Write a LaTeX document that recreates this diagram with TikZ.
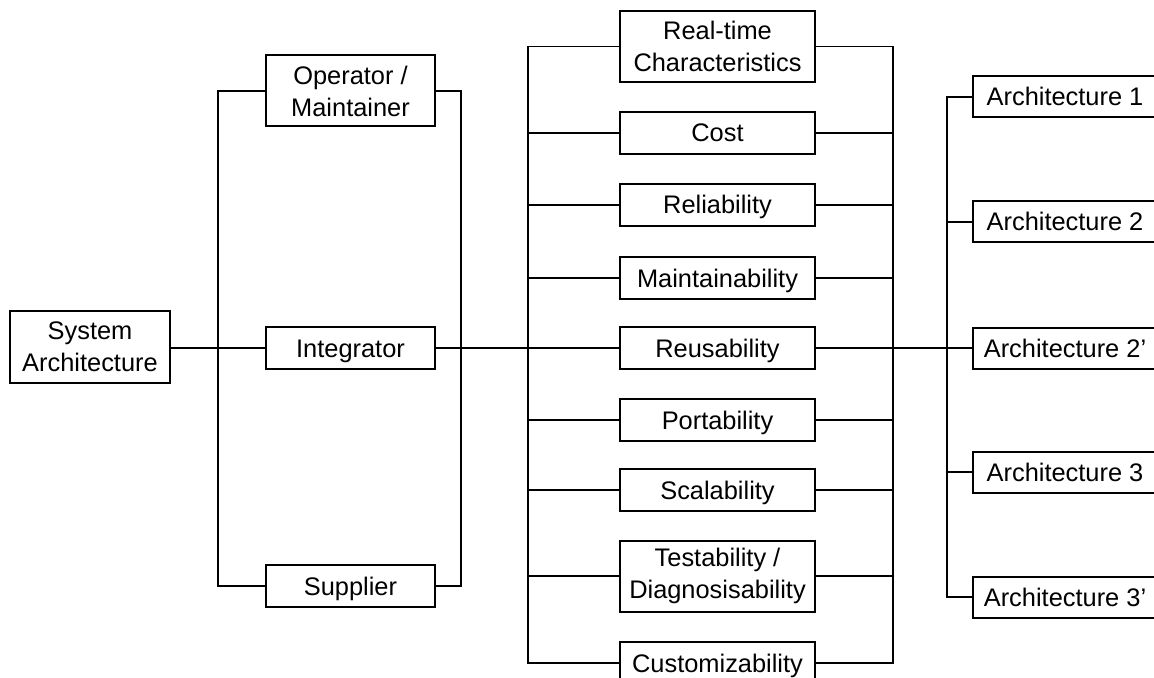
\documentclass[tikz,border=0pt]{standalone}
\usepackage{fontspec}
\setmainfont{Liberation Sans}
\usepackage{tikz}
\tikzstyle{block} = [rectangle, sharp corners, draw, line width=1pt, align=center,
                     inner sep=0pt, font=\fontsize{12.7}{16}\selectfont]
\tikzstyle{oneline} = [text height=9pt, text depth=0pt]
\tikzstyle{sysbox} = [block, minimum width=80pt, minimum height=36pt]
\tikzstyle{rolebox} = [block, oneline, minimum width=84.5pt, minimum height=21pt]
\tikzstyle{rolebox2} = [block, minimum width=84.5pt, minimum height=35.5pt]
\tikzstyle{attrbox} = [block, oneline, minimum width=97.5pt, minimum height=21pt]
\tikzstyle{attrbox2} = [block, minimum width=97.5pt, minimum height=35.5pt]
\tikzstyle{archbox} = [block, oneline, minimum width=92pt, minimum height=20.5pt]
\tikzstyle{link} = [line width=0.65pt]
\tikzstyle{spine} = [line width=1pt]

\begin{document}
\begin{tikzpicture}[x=0.5pt,y=-0.5pt]
\useasboundingbox (0,0) rectangle (1154,678);
% System
\node[sysbox] at (90,347) (sys){System\\Architecture};
% Stakeholders
\node[rolebox2] at (350.5,91) (op){Operator /\\Maintainer};
\node[rolebox] at (350.5,348) (integ){Integrator};
\node[rolebox] at (350.5,586) (sup){Supplier};
% Quality attributes
\node[attrbox2] at (717.5,46.5) (rt){Real-time\\Characteristics};
\node[attrbox] at (717.5,133) (cost){Cost};
\node[attrbox] at (717.5,205) (rel){Reliability};
\node[attrbox] at (717.5,278) (main){Maintainability};
\node[attrbox] at (717.5,348) (reuse){Reusability};
\node[attrbox] at (717.5,420) (port){Portability};
\node[attrbox] at (717.5,490) (scal){Scalability};
\node[attrbox2] at (717.5,576) (test){Testability /\\Diagnosisability};
\node[attrbox] at (717.5,663) (cust){Customizability};
% Candidates
\node[archbox] at (1065,97) (a1){Architecture 1};
\node[archbox] at (1065,222) (a2){Architecture 2};
\node[archbox] at (1065,348) (a2p){Architecture 2'};
\node[archbox] at (1065,472) (a3){Architecture 3};
\node[archbox] at (1065,597) (a3p){Architecture 3'};

% buses
\coordinate (lbus) at (218,348);
\coordinate (rbus) at (461,348);
\coordinate (abus) at (528,348);
\coordinate (bbus) at (893,348);
\coordinate (cbus) at (947,348);

\draw[spine] (sys.east |- lbus) -- (lbus);
\draw[link] (op.west) -| (lbus) |- (sup.west);
\draw[link] (lbus) -- (integ.west);
\draw[link] (op.east) -| (rbus) |- (sup.east);
\draw[spine] (integ.east) -- (abus);

\draw[link] (rt.west) -| (abus) |- (cust.west);
\draw[link] (rt.east) -| (bbus) |- (cust.east);
\foreach \n in {cost,rel,main,reuse,port,scal,test}{
  \draw[link] (abus |- \n.west) -- (\n.west);
  \draw[link] (\n.east) -- (bbus |- \n.east);
}
\draw[spine] (reuse.east) -- (cbus) -- (a2p.west);

\draw[link] (a1.west) -| (cbus) |- (a3p.west);
\foreach \n in {a2,a3}
  \draw[link] (cbus |- \n.west) -- (\n.west);
\end{tikzpicture}
\end{document}
